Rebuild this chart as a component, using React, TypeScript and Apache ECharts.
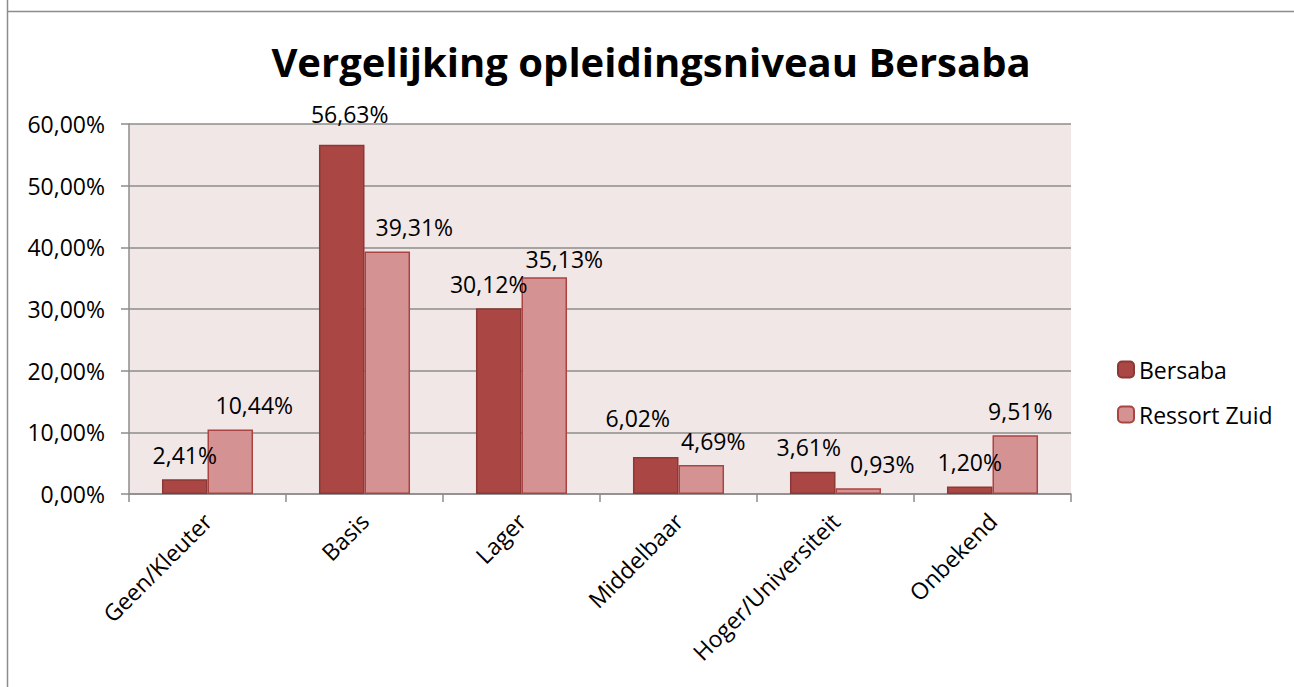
import React, { useEffect, useRef } from "react";
import * as echarts from "echarts";

const categories = ["Geen/Kleuter", "Basis", "Lager", "Middelbaar", "Hoger/Universiteit", "Onbekend"];
const bersaba = [2.41, 56.63, 30.12, 6.02, 3.61, 1.2];
const ressortZuid = [10.44, 39.31, 35.13, 4.69, 0.93, 9.51];
const yTicks = { min: 0, max: 60, interval: 10 };
const titleText = "Vergelijking opleidingsniveau Bersaba";

// label nudges (layout only), matching where the reference places its data labels
const bersabaLabelOffsets = [[0, 0], [8, -6], [-10, 0], [-18, -14], [-4, 0], [0, 0]];
const ressortLabelOffsets = [[24, 0], [27, 0], [20, 6], [12, 0], [24, 0], [5, 0]];

const FONT = "'Open Sans', sans-serif";
const fmt = (v: number) => v.toFixed(2).replace(".", ",") + "%";

export default function App() {
  const ref = useRef<HTMLDivElement>(null);
  useEffect(() => {
    if (!ref.current) return;
    const chart = echarts.init(ref.current, undefined, { renderer: "svg" });
    const labelCfg = {
      show: true,
      position: "top" as const,
      distance: 13,
      color: "#000",
      fontFamily: FONT,
      fontSize: 23,
      formatter: (p: any) => fmt(p.value),
    };
    const withOffsets = (vals: number[], offs: number[][]) =>
      vals.map((v, i) => ({ value: v, label: { offset: offs[i] } }));
    chart.setOption({
      animation: false,
      backgroundColor: "#fff",
      textStyle: { fontFamily: FONT },
      graphic: [
        { type: "line", shape: { x1: 7.5, y1: 0, x2: 7.5, y2: 687 }, style: { stroke: "#8c8c8c", lineWidth: 1.5 }, silent: true },
        { type: "line", shape: { x1: 7, y1: 11.5, x2: 1294, y2: 11.5 }, style: { stroke: "#8c8c8c", lineWidth: 1.5 }, silent: true },
        {
          type: "text",
          x: 651,
          y: 61,
          style: {
            text: titleText,
            fontFamily: FONT,
            fontWeight: "bold",
            fontSize: 40,
            fill: "#000",
            align: "center",
            verticalAlign: "middle",
          },
        },
      ],
      grid: { left: 129, top: 124, width: 942, height: 370, backgroundColor: "#F2E7E7", show: true, borderWidth: 0 },
      legend: {
        orient: "vertical",
        left: 1112,
        top: 353,
        itemWidth: 16,
        itemHeight: 16,
        itemGap: 22,
        textStyle: { fontFamily: FONT, fontSize: 23, color: "#000" },
        data: ["Bersaba", "Ressort Zuid"],
      },
      xAxis: {
        type: "category",
        data: categories,
        axisLine: { lineStyle: { color: "#8c8c8c", width: 1.5 } },
        axisTick: { show: true, length: 8, lineStyle: { color: "#8c8c8c", width: 1.5 } },
        axisLabel: { rotate: 45, margin: 23, fontFamily: FONT, fontSize: 23, color: "#000", interval: 0 },
      },
      yAxis: {
        type: "value",
        min: yTicks.min,
        max: yTicks.max,
        interval: yTicks.interval,
        axisLine: { show: true, lineStyle: { color: "#8c8c8c", width: 1.5 } },
        axisTick: { show: true, length: 8, lineStyle: { color: "#8c8c8c", width: 1.5 } },
        splitLine: { lineStyle: { color: "#8c8c8c", width: 1.5 } },
        axisLabel: { margin: 24, fontFamily: FONT, fontSize: 23, color: "#000", formatter: (v: number) => fmt(v) },
      },
      series: [
        {
          name: "Bersaba",
          type: "bar",
          data: withOffsets(bersaba, bersabaLabelOffsets),
          barGap: "0%",
          barCategoryGap: "42%",
          itemStyle: { color: "#AA4643", borderColor: "#8C3836", borderWidth: 1.5 },
          label: labelCfg,
        },
        {
          name: "Ressort Zuid",
          type: "bar",
          data: withOffsets(ressortZuid, ressortLabelOffsets),
          itemStyle: { color: "#D49292", borderColor: "#A94442", borderWidth: 1.5 },
          label: labelCfg,
        },
      ],
    });
    return () => chart.dispose();
  }, []);
  return <div ref={ref} style={{ position: "fixed", left: 0, top: 0, width: 1294, height: 687 }} />;
}
